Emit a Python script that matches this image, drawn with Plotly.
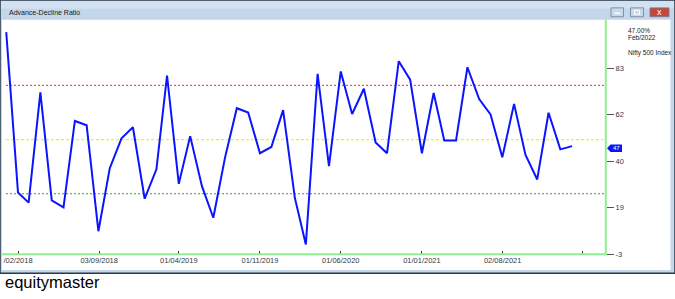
import plotly.graph_objects as go
import pandas as pd

# ---- data ----
months = [
    "2018-01-01", "2018-02-01", "2018-03-01", "2018-04-01", "2018-05-01", "2018-06-01",
    "2018-07-01", "2018-08-01", "2018-09-01", "2018-10-01", "2018-11-01", "2018-12-01",
    "2019-01-01", "2019-02-01", "2019-03-01", "2019-04-01", "2019-05-01", "2019-06-01",
    "2019-07-01", "2019-08-01", "2019-09-01", "2019-10-01", "2019-11-01", "2019-12-01",
    "2020-01-01", "2020-02-01", "2020-03-01", "2020-04-01", "2020-05-01", "2020-06-01",
    "2020-07-01", "2020-08-01", "2020-09-01", "2020-10-01", "2020-11-01", "2020-12-01",
    "2021-01-01", "2021-02-01", "2021-03-01", "2021-04-01", "2021-05-01", "2021-06-01",
    "2021-07-01", "2021-08-01", "2021-09-01", "2021-10-01", "2021-11-01", "2021-12-01",
    "2022-01-01", "2022-02-01",
]
ratio = [
    99.6, 25.6, 20.9, 71.8, 21.9, 18.7, 58.6, 56.6, 7.7, 36.8, 50.6, 55.7,
    22.7, 36.3, 79.6, 29.6, 51.6, 28.5, 13.9, 41.8, 64.5, 62.5, 43.7, 46.6,
    63.6, 23.1, 1.6, 80.4, 37.7, 81.5, 61.8, 73.5, 48.7, 43.7, 86.2, 77.7,
    43.7, 71.5, 49.6, 49.6, 83.4, 68.7, 61.6, 41.8, 66.5, 43.0, 31.6, 62.4,
    45.5, 47.0,
]
x_tick_dates = ["2018-02-01", "2018-09-03", "2019-04-01", "2019-11-01",
                "2020-06-01", "2021-01-01", "2021-08-02", "2022-03-01"]
x_tick_text = ["/02/2018", "03/09/2018", "01/04/2019", "01/11/2019",
               "01/06/2020", "01/01/2021", "02/08/2021", ""]
y_tick_vals = [-3, 18.5, 40, 61.5, 83]
y_tick_text = ["-3", "19", "40", "62", "83"]
ref_levels = [75, 50, 25]
ref_colors = ["#ff5050", "#f5f500", "#3a9a3a"]
ref_dashes = ["2px,2px", "3px,2px", "2px,2px"]
last_label = "47"
info_lines = ["47.00%", "Feb/2022", "Nifty 500 Index"]
title_text = "Advance-Decline Ratio"
brand_text = "equitymaster"

# ---- layout geometry (pixels) ----
W, H = 675, 299
def px(x):
    return x / W
def py(y):
    return 1 - y / H

PX_PER_DAY = 0.37925
X_ORIGIN_PX = 6.24  # pixel position of first month
plot_left, plot_right = 3, 606
plot_top, plot_bottom = 20, 258.7
t0 = pd.Timestamp(months[0])
x_start = t0 + pd.Timedelta(days=(plot_left - X_ORIGIN_PX) / PX_PER_DAY)
x_end = t0 + pd.Timedelta(days=(plot_right - X_ORIGIN_PX) / PX_PER_DAY)
y_lo, y_hi = -3, 83 + (69.3 - plot_top) / 2.2023

fig = go.Figure()
fig.add_trace(go.Scatter(
    x=months, y=ratio, mode="lines",
    line=dict(color="#0a14ff", width=2),
    hoverinfo="skip", showlegend=False,
))

shapes = []
# window frame
shapes.append(dict(type="rect", xref="paper", yref="paper", layer="below",
                   x0=px(0), x1=px(675), y0=py(278), y1=py(0),
                   fillcolor="#c3d6ea", line=dict(color="#2a3a48", width=1.5)))
# title bar light top part
shapes.append(dict(type="rect", xref="paper", yref="paper", layer="below",
                   x0=px(1), x1=px(674), y0=py(9), y1=py(1),
                   fillcolor="#d3e1f0", line=dict(width=0)))
# client area
shapes.append(dict(type="rect", xref="paper", yref="paper", layer="below",
                   x0=px(2), x1=px(670.5), y0=py(274.5), y1=py(20),
                   fillcolor="#ffffff", line=dict(width=0)))
# reference dotted lines
for lvl, col, dsh in zip(ref_levels, ref_colors, ref_dashes):
    shapes.append(dict(type="line", xref="paper", yref="y", layer="below",
                       x0=px(6), x1=px(605), y0=lvl, y1=lvl,
                       line=dict(color=col, width=1.2, dash=dsh)))
# green axis lines
shapes.append(dict(type="line", xref="paper", yref="paper",
                   x0=px(2), x1=px(606.5), y0=py(258.5), y1=py(258.5),
                   line=dict(color="#8ef08e", width=2)))
shapes.append(dict(type="line", xref="paper", yref="paper",
                   x0=px(605.8), x1=px(605.8), y0=py(259.5), y1=py(20),
                   line=dict(color="#8ef08e", width=2)))
# last value marker (arrow tag)
mk_y = 150.7
shapes.append(dict(type="path", xref="paper", yref="paper",
                   path=(f"M {px(607)} {py(mk_y)} L {px(610.5)} {py(mk_y - 3.8)} "
                         f"L {px(622)} {py(mk_y - 3.8)} L {px(622)} {py(mk_y + 3.8)} "
                         f"L {px(610.5)} {py(mk_y + 3.8)} Z"),
                   fillcolor="#0a14ff", line=dict(width=0)))
# window buttons
btns = [(611, 623.5, "#c9d9ec"), (630.5, 643.5, "#c9d9ec"), (650, 669, "#c8453b")]
for x0, x1, col in btns:
    shapes.append(dict(type="rect", xref="paper", yref="paper",
                       x0=px(x0), x1=px(x1), y0=py(17), y1=py(8),
                       fillcolor=col, line=dict(color="#6d7f94", width=0.8)))
# minimise glyph
shapes.append(dict(type="line", xref="paper", yref="paper",
                   x0=px(614.5), x1=px(620), y0=py(13.5), y1=py(13.5),
                   line=dict(color="#ffffff", width=1.5)))
# maximise glyph
shapes.append(dict(type="rect", xref="paper", yref="paper",
                   x0=px(634.5), x1=px(639.5), y0=py(14.5), y1=py(10.5),
                   fillcolor="rgba(0,0,0,0)", line=dict(color="#ffffff", width=1)))

annotations = [
    dict(text=title_text, x=px(7), y=py(13), xref="paper", yref="paper",
         xanchor="left", yanchor="middle", showarrow=False,
         font=dict(family="Liberation Sans, Arial", size=7, color="#1a1a1a")),
    dict(text="x", x=px(659.5), y=py(12.5), xref="paper", yref="paper",
         xanchor="center", yanchor="middle", showarrow=False,
         font=dict(family="Liberation Sans, Arial", size=9, color="#ffffff")),
    dict(text=last_label, x=px(616), y=py(mk_y), xref="paper", yref="paper",
         xanchor="center", yanchor="middle", showarrow=False,
         font=dict(family="Liberation Sans, Arial", size=6, color="#ffffff")),
    dict(text=brand_text, x=px(3), y=py(287), xref="paper", yref="paper",
         xanchor="left", yanchor="middle", showarrow=False,
         font=dict(family="Liberation Sans, Arial", size=16.5, color="#000000")),
]
for txt, yy in zip(info_lines, [31, 38.5, 54]):
    annotations.append(dict(text=txt, x=px(625.5), y=py(yy), xref="paper", yref="paper",
                            xanchor="left", yanchor="middle", showarrow=False,
                            font=dict(family="Liberation Sans, Arial", size=6.5,
                                      color="#222222")))

fig.update_layout(
    width=W, height=H,
    margin=dict(l=0, r=0, t=0, b=0),
    paper_bgcolor="#ffffff",
    plot_bgcolor="rgba(0,0,0,0)",
    shapes=shapes,
    annotations=annotations,
    xaxis=dict(
        type="date",
        domain=[px(plot_left), px(plot_right)],
        range=[x_start, x_end],
        tickvals=x_tick_dates, ticktext=x_tick_text,
        ticks="inside", ticklen=3, tickcolor="#333333", tickwidth=1,
        showgrid=False, zeroline=False, showline=False,
        tickfont=dict(family="Liberation Sans, Arial", size=7.5, color="#333a44"),
    ),
    yaxis=dict(
        side="right",
        domain=[py(plot_bottom), py(plot_top)],
        range=[y_lo, y_hi],
        tickvals=y_tick_vals, ticktext=y_tick_text,
        ticks="outside", ticklen=7, tickcolor="#555555", tickwidth=1,
        showgrid=False, zeroline=False, showline=False,
        tickfont=dict(family="Liberation Sans, Arial", size=7.5, color="#333a44"),
    ),
)

fig.write_html("out.html")
